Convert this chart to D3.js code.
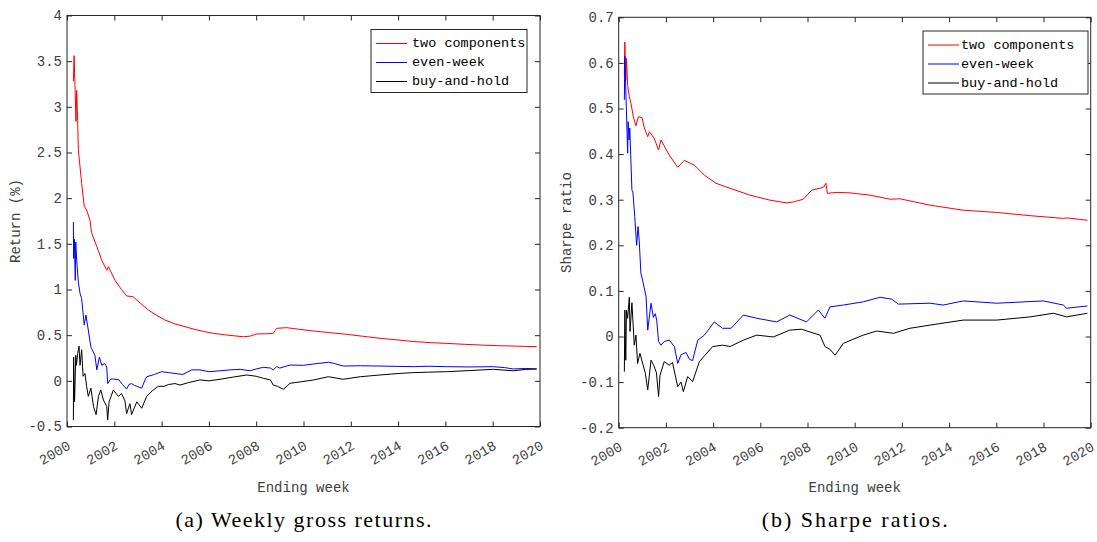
<!DOCTYPE html>
<html>
<head>
<meta charset="utf-8">
<script src="https://cdn.jsdelivr.net/npm/d3@7"></script>
<style>
  body { margin: 0; background: #fff; }
  text { font-family: "Liberation Mono", "DejaVu Sans Mono", monospace; }
</style>
</head>
<body>
<svg id="plot" width="1097" height="542"></svg>
<script>
let svg = d3.select("#plot")

// ---- data: [year, value] ----
let seriesNames = ["two components", "even-week", "buy-and-hold"]
let seriesColors = ["#ff0000", "#0000ff", "#000000"]
let xTicks = [2000, 2002, 2004, 2006, 2008, 2010, 2012, 2014, 2016, 2018, 2020]
let retTicks = [-0.5, 0, 0.5, 1, 1.5, 2, 2.5, 3, 3.5, 4]
let sharpeTicks = [-0.2, -0.1, 0, 0.1, 0.2, 0.3, 0.4, 0.5, 0.6, 0.7]

let retTwo = [[2000.27,3.28],[2000.30,3.56],[2000.33,3.30],[2000.38,2.84],[2000.41,3.18],[2000.45,2.85],[2000.48,2.53],[2000.62,2.16],[2000.73,1.91],[2000.83,1.87],[2000.97,1.76],[2001.04,1.62],[2001.26,1.47],[2001.47,1.32],[2001.68,1.21],[2001.75,1.25],[2002.03,1.10],[2002.30,1.00],[2002.52,0.93],[2002.80,0.92],[2003.10,0.85],[2003.44,0.775],[2003.80,0.715],[2004.14,0.666],[2004.55,0.625],[2004.99,0.593],[2005.40,0.563],[2005.84,0.538],[2006.19,0.52],[2006.80,0.50],[2007.46,0.483],[2007.75,0.49],[2008.02,0.513],[2008.40,0.515],[2008.72,0.52],[2008.80,0.55],[2008.87,0.575],[2009.29,0.582],[2009.80,0.565],[2010.41,0.546],[2011.10,0.528],[2011.83,0.509],[2012.50,0.488],[2013.23,0.466],[2014.00,0.447],[2014.64,0.43],[2015.40,0.418],[2016.05,0.41],[2016.80,0.40],[2017.46,0.392],[2018.20,0.385],[2019.00,0.38],[2019.86,0.374]]
let retEven = [[2000.27,1.74],[2000.28,1.34],[2000.31,1.55],[2000.35,1.10],[2000.37,1.52],[2000.41,1.32],[2000.48,1.08],[2000.55,0.96],[2000.62,0.90],[2000.73,0.61],[2000.80,0.72],[2000.88,0.59],[2001.01,0.37],[2001.18,0.28],[2001.26,0.12],[2001.37,0.26],[2001.47,0.17],[2001.60,0.19],[2001.68,0.15],[2001.72,-0.03],[2001.85,0.02],[2001.96,0.02],[2002.20,0.01],[2002.35,-0.04],[2002.52,-0.09],[2002.62,-0.04],[2002.73,-0.03],[2002.85,-0.05],[2002.95,-0.06],[2003.16,-0.08],[2003.30,0.01],[2003.37,0.045],[2003.70,0.07],[2004.00,0.10],[2004.30,0.09],[2004.57,0.08],[2004.90,0.07],[2005.27,0.12],[2005.62,0.12],[2006.00,0.10],[2006.47,0.11],[2006.90,0.12],[2007.32,0.126],[2007.74,0.11],[2008.00,0.13],[2008.30,0.148],[2008.60,0.14],[2008.72,0.12],[2008.87,0.155],[2009.00,0.14],[2009.43,0.173],[2010.00,0.17],[2010.41,0.184],[2011.05,0.203],[2011.30,0.19],[2011.68,0.162],[2012.40,0.165],[2013.23,0.162],[2014.00,0.158],[2014.64,0.155],[2015.30,0.16],[2016.05,0.155],[2017.00,0.152],[2018.03,0.155],[2018.50,0.145],[2018.87,0.13],[2019.40,0.135],[2019.86,0.13]]
let retHold = [[2000.27,-0.43],[2000.28,0.26],[2000.32,-0.23],[2000.37,0.28],[2000.40,0.17],[2000.45,0.30],[2000.51,0.38],[2000.55,0.17],[2000.62,0.34],[2000.68,0.05],[2000.76,0.08],[2000.83,-0.06],[2000.90,-0.17],[2001.01,-0.08],[2001.12,-0.28],[2001.23,-0.37],[2001.33,-0.17],[2001.43,-0.10],[2001.54,-0.21],[2001.68,-0.28],[2001.72,-0.43],[2001.78,-0.23],[2001.96,-0.10],[2002.17,-0.17],[2002.31,-0.14],[2002.45,-0.22],[2002.52,-0.36],[2002.66,-0.25],[2002.73,-0.37],[2002.95,-0.23],[2003.16,-0.30],[2003.37,-0.17],[2003.60,-0.11],[2003.86,-0.06],[2004.10,-0.06],[2004.30,-0.04],[2004.57,-0.03],[2004.78,-0.046],[2005.13,-0.02],[2005.62,0.01],[2006.00,0.00],[2006.47,0.017],[2007.00,0.04],[2007.60,0.064],[2008.00,0.05],[2008.30,0.028],[2008.60,0.01],[2008.72,-0.046],[2008.90,-0.06],[2009.15,-0.093],[2009.43,-0.027],[2009.90,-0.01],[2010.41,0.009],[2011.05,0.045],[2011.68,0.017],[2012.40,0.045],[2013.23,0.064],[2014.00,0.08],[2014.64,0.09],[2015.30,0.095],[2016.05,0.10],[2017.00,0.112],[2018.03,0.126],[2018.87,0.11],[2019.40,0.125],[2019.86,0.13]]

let shTwo = [[2000.24,0.573],[2000.26,0.646],[2000.30,0.562],[2000.33,0.61],[2000.38,0.55],[2000.45,0.526],[2000.52,0.511],[2000.62,0.482],[2000.73,0.462],[2000.83,0.482],[2000.99,0.48],[2001.07,0.46],[2001.23,0.438],[2001.30,0.449],[2001.50,0.435],[2001.69,0.409],[2001.79,0.431],[2002.14,0.398],[2002.50,0.371],[2002.78,0.386],[2003.20,0.376],[2003.63,0.354],[2004.12,0.336],[2004.72,0.325],[2005.56,0.31],[2006.41,0.299],[2007.12,0.293],[2007.40,0.295],[2007.82,0.301],[2008.18,0.321],[2008.67,0.327],[2008.78,0.336],[2008.84,0.314],[2009.24,0.316],[2009.80,0.315],[2010.65,0.31],[2011.50,0.301],[2011.92,0.302],[2013.19,0.288],[2014.60,0.277],[2016.02,0.272],[2017.43,0.265],[2018.84,0.259],[2019.00,0.26],[2019.86,0.255]]
let shEven = [[2000.24,0.519],[2000.26,0.614],[2000.38,0.402],[2000.40,0.471],[2000.44,0.431],[2000.47,0.457],[2000.56,0.321],[2000.60,0.317],[2000.68,0.263],[2000.76,0.20],[2000.82,0.241],[2000.87,0.21],[2000.94,0.139],[2001.04,0.117],[2001.16,0.087],[2001.23,0.014],[2001.37,0.073],[2001.47,0.042],[2001.55,0.05],[2001.61,0.036],[2001.69,-0.011],[2001.79,-0.019],[2001.93,-0.011],[2002.14,-0.008],[2002.36,-0.022],[2002.50,-0.059],[2002.64,-0.04],[2002.85,-0.035],[2003.00,-0.05],[2003.13,-0.053],[2003.35,-0.008],[2003.63,0.003],[2004.05,0.032],[2004.40,0.018],[2004.76,0.018],[2005.28,0.047],[2005.85,0.04],[2006.69,0.032],[2007.25,0.047],[2007.96,0.032],[2008.46,0.058],[2008.74,0.04],[2008.95,0.065],[2009.52,0.069],[2010.36,0.076],[2011.07,0.086],[2011.56,0.082],[2011.85,0.071],[2013.19,0.073],[2013.75,0.069],[2014.60,0.078],[2016.02,0.073],[2018.00,0.078],[2018.84,0.069],[2018.98,0.062],[2019.86,0.067]]
let shHold = [[2000.24,-0.077],[2000.26,0.058],[2000.30,-0.052],[2000.33,0.058],[2000.38,0.04],[2000.45,0.086],[2000.48,0.011],[2000.56,0.074],[2000.66,-0.019],[2000.73,0.003],[2000.80,-0.059],[2000.90,-0.037],[2001.13,-0.081],[2001.23,-0.117],[2001.37,-0.052],[2001.50,-0.065],[2001.60,-0.08],[2001.69,-0.132],[2001.75,-0.085],[2001.93,-0.055],[2002.14,-0.063],[2002.28,-0.057],[2002.50,-0.11],[2002.64,-0.10],[2002.74,-0.121],[2002.92,-0.088],[2003.13,-0.099],[2003.42,-0.055],[2003.98,-0.022],[2004.40,-0.019],[2004.72,-0.022],[2005.28,-0.008],[2005.85,0.003],[2006.55,-0.001],[2007.25,0.014],[2007.75,0.016],[2008.10,0.01],[2008.53,0.003],[2008.74,-0.022],[2008.95,-0.028],[2009.17,-0.041],[2009.52,-0.015],[2010.36,0.003],[2010.93,0.012],[2011.64,0.007],[2012.34,0.018],[2013.19,0.025],[2014.60,0.036],[2016.02,0.036],[2017.43,0.043],[2018.42,0.051],[2018.98,0.043],[2019.86,0.051]]

let axisColor = "#262626"
let labelColor = "#404040"

function drawPanel(p) {
  let x_scale = d3.scaleLinear([2000, 2020], [p.left, p.right])
  let y_scale = d3.scaleLinear(p.yDomain, [p.bottom, p.top])
  let g = svg.append("g")

  // lines
  let line = d3.line().x(d => x_scale(d[0])).y(d => y_scale(d[1]))
  p.series.forEach((s, i) => {
    g.append("path")
      .attr("d", line(s))
      .attr("fill", "none")
      .attr("stroke", seriesColors[i])
      .attr("stroke-width", 1)
      .attr("stroke-linejoin", "round")
  })

  // box
  g.append("rect")
    .attr("x", p.left).attr("y", p.top)
    .attr("width", p.right - p.left).attr("height", p.bottom - p.top)
    .attr("fill", "none").attr("stroke", axisColor).attr("stroke-width", 1)

  // axes, ticks inward on all four sides
  let gx = g.append("g").attr("transform", `translate(0,${p.bottom})`)
    .call(d3.axisBottom(x_scale).tickValues(xTicks).tickFormat(d3.format("d")).tickSize(-5).tickSizeOuter(0).tickPadding(0))
  gx.selectAll("text")
    .attr("y", 0).attr("dy", "0.35em")
    .attr("text-anchor", "middle")
    .attr("transform", "translate(-13,26) rotate(-30)")

  g.append("g").attr("transform", `translate(0,${p.top})`)
    .call(d3.axisTop(x_scale).tickValues(xTicks).tickFormat("").tickSize(-5).tickSizeOuter(0))

  g.append("g").attr("transform", `translate(${p.left},0)`)
    .call(d3.axisLeft(y_scale).tickValues(p.yTicks).tickFormat(d => String(d)).tickSize(-5).tickSizeOuter(0).tickPadding(5))

  g.append("g").attr("transform", `translate(${p.right},0)`)
    .call(d3.axisRight(y_scale).tickValues(p.yTicks).tickFormat("").tickSize(-5).tickSizeOuter(0))

  g.selectAll(".domain").remove()
  g.selectAll(".tick line").attr("stroke", axisColor)
  g.selectAll(".tick text")
    .attr("fill", labelColor)
    .style("font-family", "'Liberation Mono', monospace")
    .style("font-size", "14px")

  // axis labels
  svg.append("text")
    .attr("x", (p.left + p.right) / 2).attr("y", 492)
    .attr("text-anchor", "middle")
    .attr("fill", labelColor)
    .style("font-size", "14px")
    .text("Ending week")

  svg.append("text")
    .attr("transform", `translate(${p.yLabelX},${(p.top + p.bottom) / 2}) rotate(-90)`)
    .attr("text-anchor", "middle")
    .attr("dominant-baseline", "central")
    .attr("fill", labelColor)
    .style("font-size", "14px")
    .text(p.yLabel)

  // legend
  let lg = svg.append("g")
  lg.append("rect")
    .attr("x", p.legend.x).attr("y", p.legend.y)
    .attr("width", p.legend.w).attr("height", p.legend.h)
    .attr("fill", "#fff").attr("stroke", axisColor).attr("stroke-width", 1)
  seriesNames.forEach((name, i) => {
    let cy = p.legend.y + 14 + i * 19
    lg.append("line")
      .attr("x1", p.legend.x + 5).attr("x2", p.legend.x + 36)
      .attr("y1", cy).attr("y2", cy)
      .attr("stroke", seriesColors[i]).attr("stroke-width", 1)
    lg.append("text")
      .attr("x", p.legend.x + p.legend.textOff).attr("y", cy)
      .attr("dominant-baseline", "central")
      .attr("fill", "#000")
      .style("font-size", "13.5px")
      .text(name)
  })

  // caption
  svg.append("text")
    .attr("x", (p.left + p.right) / 2).attr("y", 527)
    .attr("text-anchor", "middle")
    .attr("fill", "#000")
    .attr("textLength", p.captionWidth)
    .attr("lengthAdjust", "spacing")
    .style("font-family", "'Liberation Serif', serif")
    .style("font-size", "22px")
    .text(p.caption)
}

drawPanel({
  left: 67, right: 540, top: 15.5, bottom: 426.5,
  yDomain: [-0.5, 4], yTicks: retTicks,
  series: [retTwo, retEven, retHold],
  yLabel: "Return (%)", yLabelX: 16,
  legend: {x: 371, y: 29.5, w: 156, h: 63, textOff: 41},
  caption: "(a)  Weekly gross returns.", captionWidth: 256
})

drawPanel({
  left: 618.7, right: 1090.7, top: 17.3, bottom: 427.7,
  yDomain: [-0.2, 0.7], yTicks: sharpeTicks,
  series: [shTwo, shEven, shHold],
  yLabel: "Sharpe ratio", yLabelX: 567,
  legend: {x: 923, y: 31, w: 165, h: 63, textOff: 38},
  caption: "(b)  Sharpe ratios.", captionWidth: 186
})
</script>
</body>
</html>
